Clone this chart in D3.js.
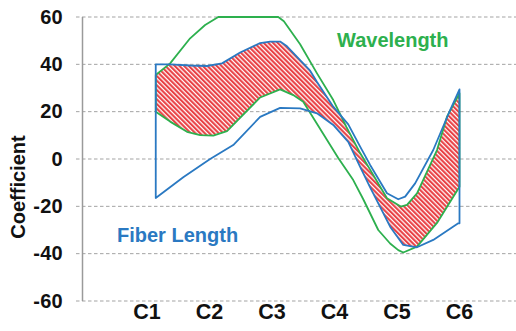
<!DOCTYPE html>
<html><head><meta charset="utf-8">
<script src="https://cdn.jsdelivr.net/npm/d3@7/dist/d3.min.js"></script>
<style>
html,body{margin:0;padding:0;background:#fff;}
svg{display:block;font-family:"Liberation Sans",Arial,Helvetica,sans-serif;}
</style></head>
<body>
<svg id="chart" width="516" height="331"></svg>
<script>
const categories = ["C1","C2","C3","C4","C5","C6"];
const yTicks = [-60,-40,-20,0,20,40,60];
const yTitle = "Coefficient";
const seriesNames = ["Fiber Length","Wavelength"];

// boundary curves: [category position, coefficient]
const fiberUpper = [[1.14,40],[1.37,40],[1.69,39.5],[1.96,39.3],[2.20,40.4],[2.49,45],[2.81,49],[2.97,49.6],[3.13,49.6],[3.24,47.6],[3.45,41.8],[3.61,37.3],[3.72,32.5],[3.98,22.1],[4.22,14.6],[4.41,5.2],[4.57,-2.5],[4.84,-14.5],[5.02,-17],[5.13,-15.9],[5.29,-10.3],[5.58,3.8],[5.85,20.7],[6.0,29.4]];
const fiberLower = [[1.14,-16.5],[1.58,-7.7],[2.01,0],[2.38,5.9],[2.81,17.8],[3.13,21.6],[3.45,21.4],[3.72,19.3],[3.98,14.4],[4.22,7.2],[4.41,-3.3],[4.57,-12],[4.89,-28.6],[5.10,-36.3],[5.32,-37.3],[5.58,-34.2],[5.98,-27.2],[6.0,-27.2]];
const waveUpper = [[1.14,35.5],[1.37,40.4],[1.69,51],[1.93,56.6],[2.14,60],[3.10,60],[3.19,58.2],[3.45,48.5],[3.72,36.2],[3.98,24.9],[4.19,13.6],[4.41,2.5],[4.57,-4.5],[4.84,-16.6],[5.06,-20.1],[5.16,-19.4],[5.32,-14.5],[5.64,3.8],[5.80,17.9],[6.0,27.8]];
const waveLower = [[1.14,20],[1.37,15.8],[1.64,11.5],[1.85,10.1],[2.06,9.9],[2.28,11.8],[2.81,26],[3.13,29.4],[3.34,27],[3.50,24.2],[4.06,0.4],[4.30,-8.9],[4.46,-17],[4.70,-30],[4.89,-35.7],[5.02,-38.5],[5.10,-39.5],[5.32,-37],[5.64,-27],[6.0,-11.7]];

const svg = d3.select("#chart");
const x = d3.scaleLinear().domain([1,6]).range([147,459.5]);
const y = d3.scaleLinear().domain([-60,60]).range([301,17]);
const blue = "#2a79c2", green = "#2db04e", red = "#e8383c";

const defs = svg.append("defs");
const pat = defs.append("pattern").attr("id","hatch").attr("patternUnits","userSpaceOnUse")
  .attr("width",3.3).attr("height",3.3).attr("patternTransform","rotate(-45)");
pat.append("rect").attr("width",3.3).attr("height",3.3).attr("fill","#fff");
pat.append("line").attr("x1",1.1).attr("y1",0).attr("x2",1.1).attr("y2",3.3)
  .attr("stroke",red).attr("stroke-width",2);

// grid
svg.append("g").selectAll("line").data(yTicks).join("line")
  .attr("x1",76).attr("x2",516).attr("y1",d=>y(d)).attr("y2",d=>y(d))
  .attr("stroke","#a3a3a3").attr("stroke-width",1).attr("stroke-dasharray","3.5,2.5");
svg.append("line").attr("x1",82.5).attr("x2",82.5).attr("y1",y(60)).attr("y2",y(-60))
  .attr("stroke","#9a9a9a").attr("stroke-width",1.5);

// y tick labels
svg.append("g").selectAll("text").data(yTicks).join("text")
  .attr("x",63).attr("y",d=>y(d)+6.8).attr("text-anchor","end")
  .attr("font-size",20).attr("font-weight","bold").attr("letter-spacing",0.3)
  .attr("fill","#111").text(d=>d);
// x labels
svg.append("g").selectAll("text").data(categories).join("text")
  .attr("x",(d,i)=>x(i+1)).attr("y",318.5).attr("text-anchor","middle")
  .attr("font-size",21.5).attr("font-weight","bold").attr("fill","#111").text(d=>d);
// y title
svg.append("text").attr("transform","translate(25,187) rotate(-90)").attr("text-anchor","middle")
  .attr("font-size",20).attr("font-weight","bold").attr("fill","#111").text(yTitle);

const line = d3.line().x(d=>x(d[0])).y(d=>y(d[1]));
const poly = (up,lo)=> line(up.concat(lo.slice().reverse())) + "Z";

defs.append("clipPath").attr("id","waveClip").append("path").attr("d",poly(waveUpper,waveLower));
svg.append("path").attr("d",poly(fiberUpper,fiberLower)).attr("fill","url(#hatch)")
  .attr("clip-path","url(#waveClip)");

svg.append("path").attr("d",poly(waveUpper,waveLower)).attr("fill","none")
  .attr("stroke",green).attr("stroke-width",1.8).attr("stroke-linejoin","round");
svg.append("path").attr("d",poly(fiberUpper,fiberLower)).attr("fill","none")
  .attr("stroke",blue).attr("stroke-width",1.8).attr("stroke-linejoin","round");

svg.append("text").attr("x",337).attr("y",47).attr("font-size",20).attr("font-weight","bold")
  .attr("fill",green).text(seriesNames[1]);
svg.append("text").attr("x",117).attr("y",242).attr("font-size",20).attr("font-weight","bold")
  .attr("fill",blue).text(seriesNames[0]);
</script>
</body></html>
